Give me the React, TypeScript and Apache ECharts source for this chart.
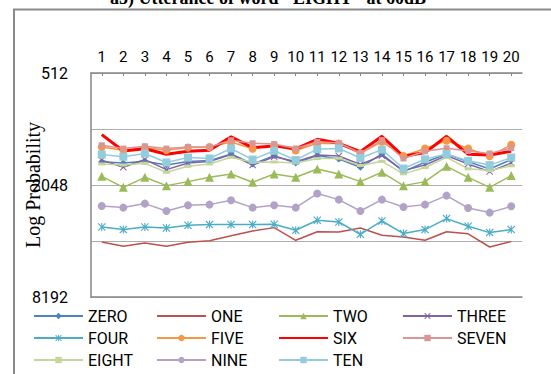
import React, { useEffect, useRef } from "react";
import * as echarts from "echarts";

const categories = ["1","2","3","4","5","6","7","8","9","10","11","12","13","14","15","16","17","18","19","20"];
const yTickLabels = ["512", "2048", "8192"];
const titleText = 'a5) Utterance of word "EIGHT" at 60dB';

const ZERO = [1537,1560,1527,1599,1533,1514,1395,1579,1423,1560,1423,1484,1645,1395,1735,1546,1395,1533,1680,1495];
const ONE = [4147,4365,4198,4365,4160,4085,3840,3618,3471,4061,3655,3664,3488,3817,3899,4061,3650,3746,4412,4120];
const TWO = [1839,2108,1862,2064,1964,1862,1788,1981,1788,1862,1680,1788,1964,1750,2064,1964,1625,1862,2108,1823];
const THREE = [1505,1645,1495,1693,1560,1533,1406,1599,1444,1533,1413,1430,1590,1423,1714,1599,1423,1579,1735,1560];
const FOUR = [3444,3556,3444,3488,3373,3343,3340,3343,3332,3588,3170,3238,3769,3197,3738,3556,3104,3415,3692,3556];
const FIVE = [1279,1333,1289,1333,1289,1279,1203,1308,1255,1336,1222,1227,1386,1200,1430,1303,1185,1303,1436,1245];
const SIX = [1098,1344,1308,1400,1349,1333,1128,1289,1262,1308,1163,1222,1357,1121,1436,1371,1121,1400,1412,1349];
const SEVEN = [1253,1305,1268,1305,1279,1279,1178,1222,1234,1303,1200,1218,1378,1175,1475,1349,1300,1344,1386,1296];
const EIGHT = [1579,1599,1566,1750,1625,1579,1453,1546,1540,1560,1477,1471,1609,1527,1784,1649,1453,1676,1714,1615];
const NINE = [2656,2709,2578,2826,2633,2611,2475,2709,2633,2709,2277,2454,2826,2454,2689,2611,2335,2722,2882,2666];
const TEN = [1404,1444,1386,1550,1459,1475,1303,1495,1341,1503,1314,1303,1466,1322,1670,1490,1397,1518,1601,1457];

const X_SYM = "path://M1,0L5,4L9,0L10,1L6,5L10,9L9,10L5,6L1,10L0,9L4,5L0,1Z";
const STAR_SYM = "path://M1,0L4.3,3.3L4.3,0L5.7,0L5.7,3.3L9,0L10,1L6,5L10,9L9,10L5.7,6.7L5.7,10L4.3,10L4.3,6.7L1,10L0,9L4,5L0,1Z";

type S = { name: string; data: number[]; color: string; symbol: string; size: any; width: number };
const seriesDefs: S[] = [
  { name: "ZERO", data: ZERO, color: "#4F81BD", symbol: "diamond", size: 7, width: 1.5 },
  { name: "ONE", data: ONE, color: "#C0504D", symbol: "none", size: 0, width: 1.5 },
  { name: "TWO", data: TWO, color: "#9BBB59", symbol: "triangle", size: 9, width: 1.5 },
  { name: "THREE", data: THREE, color: "#8064A2", symbol: X_SYM, size: 7, width: 1.5 },
  { name: "FOUR", data: FOUR, color: "#4BACC6", symbol: STAR_SYM, size: 8, width: 1.5 },
  { name: "FIVE", data: FIVE, color: "#F79646", symbol: "circle", size: 8, width: 1.5 },
  { name: "SIX", data: SIX, color: "#FF0000", symbol: "none", size: 0, width: 3 },
  { name: "SEVEN", data: SEVEN, color: "#D99694", symbol: "rect", size: 6, width: 1.5 },
  { name: "EIGHT", data: EIGHT, color: "#C3D69B", symbol: "rect", size: [7, 3], width: 1.5 },
  { name: "NINE", data: NINE, color: "#B3A2C7", symbol: "circle", size: 8, width: 1.5 },
  { name: "TEN", data: TEN, color: "#93CDDD", symbol: "rect", size: 8, width: 1.5 },
];

const legendColumns = [
  ["ZERO", "FOUR", "EIGHT"],
  ["ONE", "FIVE", "NINE"],
  ["TWO", "SIX", "TEN"],
  ["THREE", "SEVEN"],
];
const legendLefts = [33, 156, 278, 402];

export default function App() {
  const ref = useRef<HTMLDivElement>(null);
  useEffect(() => {
    if (!ref.current) return;
    const chart = echarts.init(ref.current, undefined, { renderer: "svg" });
    const sansFont = "Roboto, 'Liberation Sans', sans-serif";
    const option: any = {
      animation: false,
      backgroundColor: "#ffffff",
      grid: { left: 91, top: 73, right: 29, bottom: 77, containLabel: false, outerBoundsMode: "none" },
      graphic: [
        {
          type: "rect",
          shape: { x: 14, y: 9.5, width: 600, height: 400 },
          style: { fill: "none", stroke: "#898989", lineWidth: 2 },
          silent: true,
        },
        {
          type: "text",
          x: 268,
          y: 7,
          style: {
            text: titleText,
            font: "bold 18px 'Liberation Serif', 'Times New Roman', serif",
            fill: "#000",
            textAlign: "center",
            textVerticalAlign: "bottom",
          },
          silent: true,
        },
      ],
      legend: legendColumns.map((col, i) => ({
        orient: "vertical",
        left: legendLefts[i],
        top: 308,
        padding: 0,
        itemWidth: 49,
        itemHeight: 8,
        itemGap: 6,
        data: col,
        textStyle: { fontFamily: sansFont, fontSize: 16, color: "#000" },
        selectedMode: false,
      })),
      xAxis: [
        {
          type: "category",
          data: categories,
          position: "top",
          boundaryGap: true,
          axisLine: { show: true, onZero: false, lineStyle: { color: "#868686", width: 1.5 } },
          axisTick: { show: true, inside: true, alignWithLabel: true, length: 3, lineStyle: { color: "#868686" } },
          axisLabel: { interval: 0, margin: 9, fontFamily: sansFont, fontSize: 15, color: "#000" },
          splitLine: { show: false },
        },
        {
          type: "category",
          data: categories,
          position: "bottom",
          axisLine: { show: true, onZero: false, lineStyle: { color: "#868686", width: 1.5 } },
          axisTick: { show: false },
          axisLabel: { show: false },
          splitLine: { show: false },
        },
      ],
      yAxis: {
        type: "log",
        logBase: 2,
        min: 512,
        max: 8192,
        inverse: true,
        name: "Log Probability",
        nameLocation: "middle",
        nameGap: 48,
        nameMoveOverlap: false,
        nameTextStyle: { fontFamily: "'Liberation Serif', 'Times New Roman', serif", fontSize: 20, color: "#000" },
        axisLine: { show: true, lineStyle: { color: "#868686", width: 1.5 } },
        axisTick: { show: false },
        axisLabel: {
          margin: 23,
          fontFamily: sansFont,
          fontSize: 16,
          color: "#000",
          formatter: (v: number) => {
            const s = String(Math.round(v));
            return yTickLabels.includes(s) ? s : "";
          },
        },
        splitLine: { show: true, lineStyle: { color: "#ADADAD", width: 1.2 } },
      },
      series: seriesDefs.map((d) => ({
        name: d.name,
        type: "line",
        xAxisIndex: 0,
        data: d.data,
        symbol: d.symbol,
        symbolSize: d.size,
        showSymbol: d.symbol !== "none",
        lineStyle: { color: d.color, width: d.width },
        itemStyle: { color: d.symbol === "none" ? "rgba(0,0,0,0)" : d.color },
        emphasis: { disabled: true },
      })),
    };
    chart.setOption(option);
    return () => chart.dispose();
  }, []);
  return (
    <div
      ref={ref}
      style={{ position: "absolute", left: 0, top: 0, width: 551, height: 374 }}
    />
  );
}
